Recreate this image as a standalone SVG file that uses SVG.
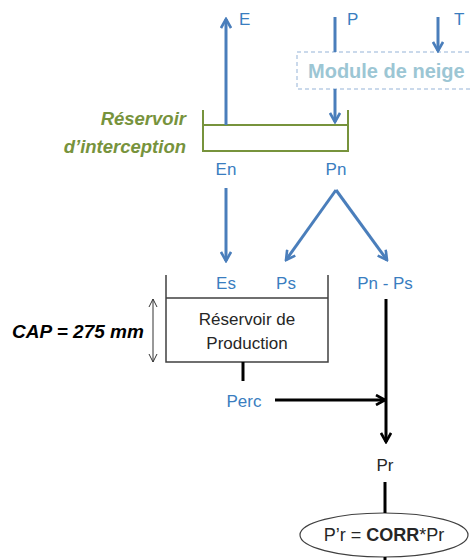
<svg xmlns="http://www.w3.org/2000/svg" width="470" height="560" viewBox="0 0 470 560">
<style>
.lbl{font-family:"Liberation Sans",Arial,sans-serif;font-size:17px;fill:#3A7DBF}
.dark{font-family:"Liberation Sans",Arial,sans-serif;font-size:17px;fill:#262626}
.green{font-family:"Liberation Sans",Arial,sans-serif;font-size:18.5px;font-weight:bold;font-style:italic;fill:#77933C}
.blue{stroke:#4A7EBB;stroke-width:3;fill:none}
.blk{stroke:#000;stroke-width:3;fill:none}
</style>
<defs>
<marker id="ab" viewBox="0 0 12 12" refX="10" refY="6" markerWidth="12" markerHeight="12" markerUnits="userSpaceOnUse" orient="auto">
<path d="M1,1 L10,6 L1,11" fill="none" stroke="#4A7EBB" stroke-width="2.6"/>
</marker>
<marker id="ak" viewBox="0 0 12 12" refX="10" refY="6" markerWidth="12" markerHeight="12" markerUnits="userSpaceOnUse" orient="auto">
<path d="M1,1 L10,6 L1,11" fill="none" stroke="#000" stroke-width="2.6"/>
</marker>
<marker id="at" viewBox="0 0 10 10" refX="9" refY="5" markerWidth="10" markerHeight="10" markerUnits="userSpaceOnUse" orient="auto">
<path d="M1,1 L9,5 L1,9" fill="none" stroke="#333" stroke-width="1"/>
</marker>
</defs>
<rect width="470" height="560" fill="#fff"/>

<g id="snow">
<rect x="297" y="52" width="180" height="37" fill="none" stroke="#95B3D7" stroke-width="1" stroke-dasharray="4,3"/>
<text x="308" y="78" font-family="'Liberation Sans',Arial,sans-serif" font-size="20" font-weight="bold" fill="#9CC6D4">Module de neige</text>
</g>

<g id="interception">
<path d="M203,110 V151 H348 V110 M203,125 H348" fill="none" stroke="#77933C" stroke-width="2"/>
<text class="green" x="186" y="125" text-anchor="end">Réservoir</text>
<text class="green" x="186" y="153" text-anchor="end">d’interception</text>
</g>

<g id="production">
<path d="M166,275 V362 H328 V275 M166,298 H328" fill="none" stroke="#404040" stroke-width="1.5"/>
<text class="dark" x="247" y="325" text-anchor="middle">Réservoir de</text>
<text class="dark" x="247" y="349" text-anchor="middle">Production</text>
</g>

<g id="cap">
<text x="12" y="338" font-family="'Liberation Sans',Arial,sans-serif" font-size="19" font-weight="bold" font-style="italic" fill="#000">CAP = 275 mm</text>
</g>

<g id="correction">
<ellipse cx="384" cy="535" rx="84" ry="22" fill="#fff" stroke="#404040" stroke-width="1.2"/>
<text class="dark" x="384" y="541" text-anchor="middle" style="font-size:18px">P’r = <tspan font-weight="bold">CORR</tspan>*Pr</text>
</g>

<g id="labels">
<text class="lbl" x="239" y="25">E</text>
<text class="lbl" x="347" y="25">P</text>
<text class="lbl" x="454" y="25">T</text>
<text class="lbl" x="226" y="175" text-anchor="middle">En</text>
<text class="lbl" x="336" y="175" text-anchor="middle">Pn</text>
<text class="lbl" x="226" y="289" text-anchor="middle">Es</text>
<text class="lbl" x="286" y="289" text-anchor="middle">Ps</text>
<text class="lbl" x="385" y="289" text-anchor="middle">Pn - Ps</text>
<text class="lbl" x="244" y="407" text-anchor="middle">Perc</text>
<text class="dark" x="385" y="471" text-anchor="middle">Pr</text>
</g>

<g id="connectors">
<line class="blue" x1="226" y1="125" x2="226" y2="19" marker-end="url(#ab)"/>
<line class="blue" x1="335" y1="17" x2="335" y2="52"/>
<line class="blue" x1="438" y1="17" x2="438" y2="51" marker-end="url(#ab)"/>
<line class="blue" x1="335" y1="89" x2="335" y2="122" marker-end="url(#ab)"/>
<line class="blue" x1="226" y1="188" x2="226" y2="261" marker-end="url(#ab)"/>
<line class="blue" x1="336" y1="190" x2="286" y2="260" marker-end="url(#ab)"/>
<line class="blue" x1="336" y1="190" x2="387" y2="260" marker-end="url(#ab)"/>
<line stroke="#333" stroke-width="1" x1="153" y1="330" x2="153" y2="299" marker-end="url(#at)"/>
<line stroke="#333" stroke-width="1" x1="153" y1="330" x2="153" y2="362" marker-end="url(#at)"/>
<line class="blk" x1="243" y1="362" x2="243" y2="381"/>
<line class="blk" x1="275" y1="400" x2="385" y2="400" marker-end="url(#ak)"/>
<line class="blk" x1="386" y1="299" x2="386" y2="442" marker-end="url(#ak)"/>
<line class="blk" x1="385" y1="482" x2="385" y2="513"/>
<line class="blk" x1="385" y1="557" x2="385" y2="560"/>
</g>
</svg>
